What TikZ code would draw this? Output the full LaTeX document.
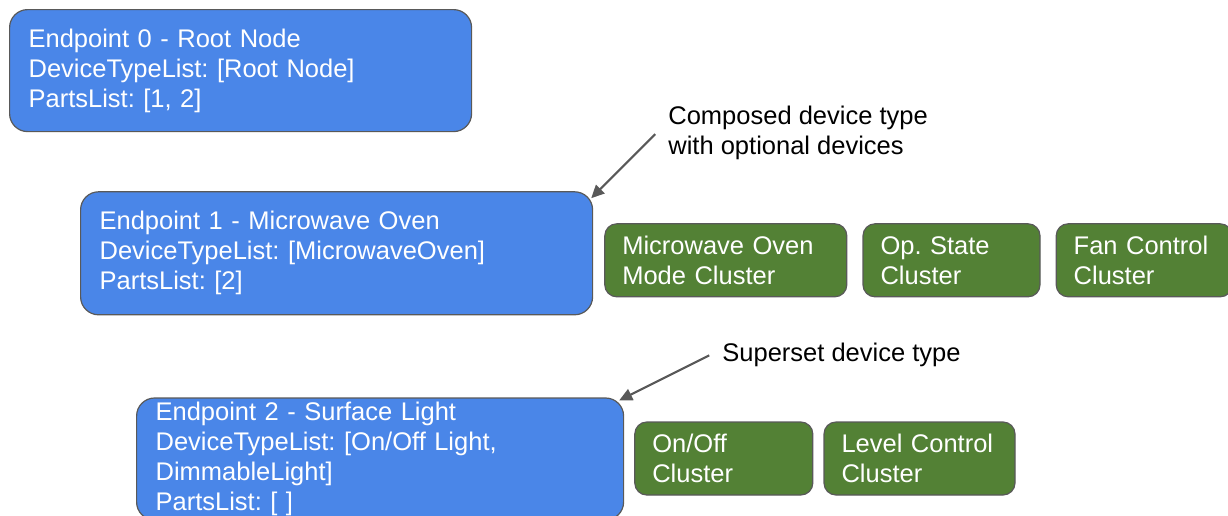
\documentclass[tikz,border=0pt]{standalone}
\usepackage{fontspec}
\setmainfont{Liberation Sans}
\usepackage{xcolor}
\definecolor{epblue}{HTML}{4A86E8}
\definecolor{clgreen}{HTML}{538135}
\definecolor{edgegray}{HTML}{595959}
\usepackage{tikz}
\usetikzlibrary{positioning,arrows.meta}
\frenchspacing

\begin{document}
\begin{tikzpicture}[x = 1pt, y = 1pt, node distance = 10pt,
    endpoint/.style={
        rectangle, rounded corners = 18pt, line width = 1.2pt,
        draw = edgegray, fill = epblue, text = white, align = left,
        inner xsep = 19pt, inner ysep = 0pt,
        font = \fontsize{25.5}{30}\selectfont},
    cluster/.style={
        endpoint, rounded corners = 12pt, fill = clgreen,
        inner xsep = 17.5pt, minimum height = 73pt},
    note/.style={align = left, inner sep = 0pt,
        font = \fontsize{25.5}{30}\selectfont},
    pointer/.style={draw = edgegray, line width = 2.2pt,
        -{Triangle[length = 13pt, width = 12pt]}}]
    \useasboundingbox (0,0) rectangle (1228,-515);
    % endpoints
    \node (ep0) [endpoint, text width = 424pt, minimum height = 122pt,
        anchor = north west] at (9,-9)
        {Endpoint 0 - Root Node\\DeviceTypeList: [Root Node]\\PartsList: [1, 2]};
    \node (ep1) [endpoint, text width = 474pt, minimum height = 123pt,
        below right = 59pt and 71pt of ep0.south west, anchor = north west]
        {Endpoint 1 - Microwave Oven\\DeviceTypeList: [MicrowaveOven]\\PartsList: [2]};
    \node (ep2) [endpoint, text width = 449pt, minimum height = 122pt,
        below right = 82pt and 56pt of ep1.south west, anchor = north west]
        {Endpoint 2 - Surface Light\\DeviceTypeList: [On/Off Light,\\DimmableLight]\\PartsList: [ ]};
    % clusters
    \node (cl1) [cluster, text width = 207pt,
        below right = 32pt and 11pt of ep1.north east, anchor = north west]
        {Microwave Oven\\Mode Cluster};
    \node (cl2) [cluster, text width = 142pt,
        right = 15pt of cl1.north east, anchor = north west] {Op. State\\Cluster};
    \node (cl3) [cluster, text width = 141pt,
        right = 15pt of cl2.north east, anchor = north west] {Fan Control\\Cluster};
    \node (cl4) [cluster, text width = 143pt,
        below right = 24pt and 10pt of ep2.north east, anchor = north west]
        {On/Off\\Cluster};
    \node (cl5) [cluster, text width = 156pt,
        right = 10pt of cl4.north east, anchor = north west] {Level Control\\Cluster};
    % notes
    \node (note1) [note, above right = 58pt and 75pt of ep1.north east, anchor = west]
        {Composed device type\\with optional devices};
    \node (note2) [note, above right = 43pt and 98pt of ep2.north east, anchor = west]
        {Superset device type};
    \coordinate (p1) at ([shift = {(-13pt,-1pt)}]note1.west);
    \coordinate (p2) at ([shift = {(-13pt,-1pt)}]note2.west);
    \draw [pointer] (p1) -- ([shift = {(-2pt,-7pt)}]ep1.north east);
    \draw [pointer] (p2) -- ([shift = {(-5pt,-3pt)}]ep2.north east);
\end{tikzpicture}
\end{document}
